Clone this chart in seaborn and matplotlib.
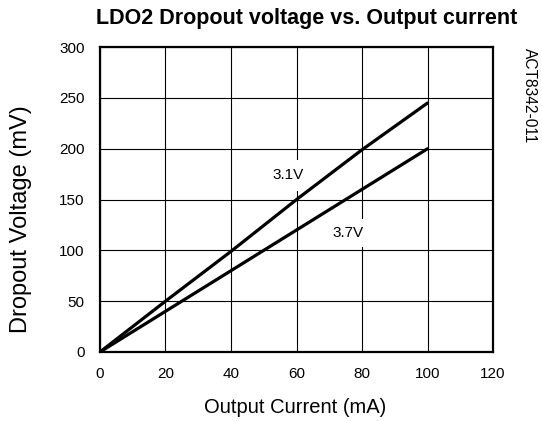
import matplotlib
matplotlib.use("Agg")
import matplotlib.pyplot as plt
import seaborn as sns
import pandas as pd

current_ma = [0, 20, 40, 60, 80, 100]
v31_mv = [0, 50, 99, 150, 199, 245]
v37_mv = [0, 40, 80, 120, 160, 200]
series_names = ["3.1V", "3.7V"]

df = pd.DataFrame({
    "I": current_ma * 2,
    "V": v31_mv + v37_mv,
    "s": [series_names[0]] * len(current_ma) + [series_names[1]] * len(current_ma),
})

sns.set_style("white")
plt.rcParams["font.family"] = ["Liberation Sans", "DejaVu Sans"]
plt.rcParams["text.color"] = "black"
plt.rcParams["xtick.color"] = "black"
plt.rcParams["ytick.color"] = "black"
plt.rcParams["axes.labelcolor"] = "black"

fig = plt.figure(figsize=(5.42, 4.21), dpi=100)
ax = fig.add_axes([0.1845, 0.164, 0.7251, 0.724])

sns.lineplot(data=df, x="I", y="V", hue="s", palette=["black", "black"],
             linewidth=2.3, legend=False, ax=ax, zorder=3)

ax.set_xlim(0, 120)
ax.set_ylim(0, 300)
ax.set_xticks(range(0, 121, 20))
ax.set_yticks(range(0, 301, 50))
ax.grid(True, color="black", linewidth=0.8)
ax.set_axisbelow(True)
for sp in ax.spines.values():
    sp.set_color("black")
    sp.set_linewidth(1.6)
ax.tick_params(axis="x", labelsize=11, length=0, pad=11)
ax.tick_params(axis="y", labelsize=11, length=0, pad=11)
ax.set_xlabel("")
ax.set_ylabel("")

fig.text(0.544, 0.033, "Output Current (mA)", ha="center", va="center", fontsize=14.5)
fig.text(0.039, 0.479, "Dropout Voltage (mV)", rotation=90, ha="center",
         va="center", fontsize=17)

fig.text(0.565, 0.955, "LDO2 Dropout voltage vs. Output current", ha="center",
         va="center", fontsize=15.5, fontweight="bold")
fig.text(0.977, 0.774, "ACT8342-011", rotation=-90, ha="center", va="center",
         fontsize=11.2)

ax.text(57.4, 174, "3.1V", fontsize=11, ha="center", va="center", zorder=2,
        bbox=dict(facecolor="white", edgecolor="none", pad=6))
ax.text(75.7, 117, "3.7V", fontsize=11, ha="center", va="center", zorder=2,
        bbox=dict(facecolor="white", edgecolor="none", pad=5))

fig.savefig("out.png", dpi=100)
